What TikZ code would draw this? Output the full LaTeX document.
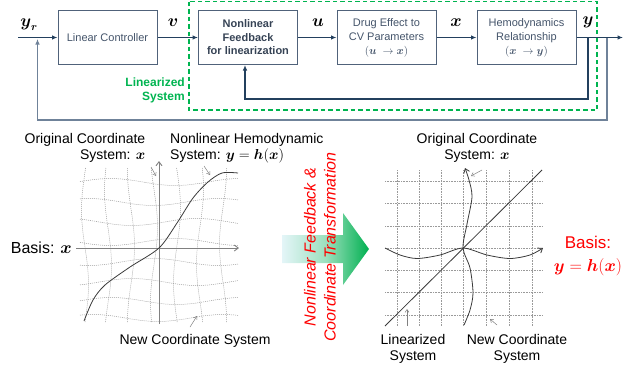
\documentclass[tikz,border=0pt]{standalone}
\usepackage{amsmath}
\usepackage{fontspec}
\setmainfont{Liberation Sans}
\usetikzlibrary{arrows.meta,calc}
\definecolor{boxline}{HTML}{50627A}
\definecolor{boxtext}{HTML}{44546A}
\definecolor{wirec}{HTML}{23405E}
\definecolor{outerc}{HTML}{6F8299}
\definecolor{lingreen}{HTML}{00B450}
\definecolor{gridgray}{HTML}{9A9A9A}
\definecolor{curvegray}{HTML}{3A3A3A}
\definecolor{arrowcyan}{HTML}{E4F5F8}
\definecolor{arrowgreen}{HTML}{00B050}
\tikzset{
  blk/.style={draw=boxline, line width=1pt, minimum width=99pt, minimum height=54pt,
    align=center, text=boxtext, font=\fontsize{11}{14}\selectfont, inner sep=0pt},
  wire/.style={draw=wirec, line width=1.1pt, -{Latex[length=5.5pt,width=4.5pt]}},
  outerwire/.style={draw=outerc, line width=1.4pt, -{Latex[length=5.5pt,width=4.5pt]}},
  mlabel/.style={font=\fontsize{16}{18}\selectfont, text=black, inner sep=0pt},
  lbl/.style={font=\fontsize{14}{16}\selectfont, text=black, inner sep=0pt},
  wavy/.style={draw=gridgray, line width=0.5pt, dash pattern=on 1pt off 1pt},
  dotgrid/.style={draw=gridgray, line width=0.5pt, dash pattern=on 0.8pt off 0.8pt},
  axisline/.style={draw=gray, line width=0.9pt, -{Straight Barb[length=4pt,width=6pt]}},
  curveline/.style={draw=curvegray, line width=0.8pt},
  pointer/.style={draw=gray, line width=0.5pt, -{Straight Barb[length=3pt,width=4pt]}}
}
\begin{document}
\begin{tikzpicture}[x=1pt,y=-1pt]
\useasboundingbox (0,0) rectangle (639,370);

% ---------- block diagram ----------
\draw[lingreen, line width=1.5pt, dash pattern=on 4.5pt off 3pt] (189,1.5) rectangle (597,110);
\node[font=\bfseries\fontsize{12}{14}\selectfont, text=lingreen, align=right, anchor=east, inner sep=0pt] (linsys) at (185,90) {Linearized\\System};

\node[blk] (lc) at (107.5,37.5) {Linear Controller};
\node[blk, font=\bfseries\fontsize{11}{13.5}\selectfont, text=boxtext!80!black] (nf) at (248,37.5) {Nonlinear\\Feedback\\for linearization};
\node[blk] (de) at (386.5,37.5) {Drug Effect to\\CV Parameters\\$(\boldsymbol{u}\ \rightarrow \boldsymbol{x})$};
\node[blk] (hr) at (526.5,37.5) {Hemodynamics\\Relationship\\$(\boldsymbol{x}\ \rightarrow \boldsymbol{y})$};

\coordinate (in) at (18,37.5);
\coordinate (out) at (623,37.5);
\coordinate (b1) at (588,37.5);
\coordinate (b2) at (607,37.5);
\coordinate (sum) at (37.5,39);

\draw[outerwire] (b2) -- (607,120) -| (sum);
\draw[wire] (in) -- (lc.west);
\draw[wire] (lc.east) -- (nf.west);
\draw[wire] (nf.east) -- (de.west);
\draw[wire] (de.east) -- (hr.west);
\draw[wire] (hr.east) -- (out);
\draw[wire] (b1) -- (588,99) -| ($(nf.south)+(-3,0)$);

\node[mlabel] (yr) at (29,25) {$\boldsymbol{y}_{\boldsymbol{r}}$};
\node[mlabel] (vl) at (173,23) {$\boldsymbol{v}$};
\node[mlabel] (ul) at (318,23) {$\boldsymbol{u}$};
\node[mlabel] (xl) at (456,23) {$\boldsymbol{x}$};
\node[mlabel] (yl) at (588,22) {$\boldsymbol{y}$};

% ---------- left plot ----------
\foreach \gx in {85,108,131,154,177,200,223}
  \draw[wavy] plot[variable=\t, domain=168:322, samples=40, smooth] ({\gx+3.5*sin(2.4*(\t-168)+\gx*2)}, {\t});
\foreach \gy in {182,202,222,242,262,282,301,318}
  \draw[wavy] plot[variable=\t, domain=80:238, samples=40, smooth] ({\t}, {\gy+3.5*sin(2.77*(\t-80)+\gy*3)});

\coordinate (lo) at (159,248);
\draw[axisline] (76,248) -- (239,248);
\draw[axisline] (159,324) -- (159,161);
\draw[curveline] plot[smooth] coordinates {(84,321) (93,300) (105,285) (130,267) (159,248) (177,223) (193,198) (208,182) (222,173) (238,173)};

\draw[pointer] (151,167) -- (156,176);
\draw[pointer] (204,166) -- (210,175);
\draw[pointer] (190,327) -- (197,316);

\node[lbl, align=right] (oc1) at (85,148) {Original Coordinate\\System: $\boldsymbol{x}$};
\node[lbl, align=left, anchor=west] (nh) at (170,148) {Nonlinear Hemodynamic\\System: $\boldsymbol{y}=\boldsymbol{h}(\boldsymbol{x})$};
\node[lbl, font=\fontsize{16}{18}\selectfont, anchor=east] (bx) at (72,248) {Basis: $\boldsymbol{x}$};
\node[lbl] (nc1) at (195,341) {New Coordinate System};

% ---------- middle arrow ----------
\shade[left color=arrowcyan, right color=arrowgreen, middle color=arrowcyan!40!arrowgreen!60]
  (282,235) -- (343,235) -- (343,213) -- (369,249) -- (343,285) -- (343,263) -- (282,263) -- cycle;
\node[font=\itshape\fontsize{16}{20}\selectfont, text=red, align=center, rotate=90, inner sep=0pt] (nfct) at (320,247) {Nonlinear Feedback \&\\Coordinate Transformation};

% ---------- right plot ----------
\foreach \gx in {397,419,441,463,486,509,532}
  \draw[dotgrid] (\gx,170) -- (\gx,326);
\foreach \gy in {181,203,226,248,270,292,315}
  \draw[dotgrid] (385,\gy) -- (542,\gy);

\draw[curveline] (385,326) -- (542,170);
\draw[curveline, -{Straight Barb[length=4pt,width=6pt]}] plot[smooth] coordinates {(385,248) (400,255) (417,258.5) (440,255) (463,248) (487,255) (510,258.5) (530,255) (543,248)};
\draw[curveline, -{Straight Barb[length=4pt,width=6pt]}] plot[smooth] coordinates {(464,325) (470,310) (473,293) (470,268) (463,248) (467,224) (472,197) (469,180) (465,168)};

\draw[pointer] (482,170) -- (471,176);
\draw[pointer] (407,326) -- (407,309);
\draw[pointer] (497,325) -- (490,319);

\node[lbl, align=center] (oc2) at (477,148) {Original Coordinate\\System: $\boldsymbol{x}$};
\node[lbl, align=center] (ls) at (413,349) {Linearized\\System};
\node[lbl, align=center] (nc2) at (517,349) {New Coordinate\\System};
\node[font=\fontsize{17}{23}\selectfont, text=red, align=center, inner sep=0pt] (bh) at (588,256) {Basis:\\$\boldsymbol{y}=\boldsymbol{h}(\boldsymbol{x})$};
\end{tikzpicture}
\end{document}
